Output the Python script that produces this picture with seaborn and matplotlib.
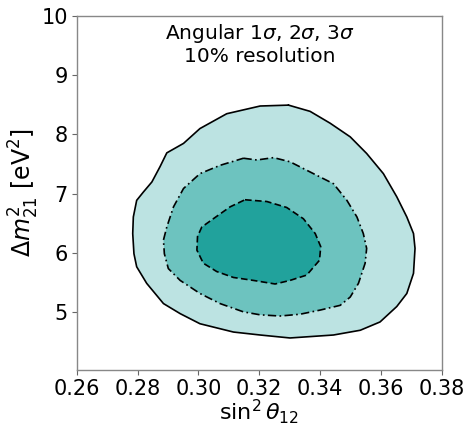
import matplotlib
matplotlib.use("Agg")
import matplotlib.pyplot as plt
import seaborn as sns
import numpy as np

# 3 sigma contour (outer)
outer_x = [0.3296, 0.3203, 0.3093, 0.3005, 0.2951, 0.2896, 0.2874, 0.2847, 0.2819, 0.2797,
           0.2786, 0.2784, 0.2788, 0.2797, 0.2830, 0.2885, 0.2940, 0.3005, 0.3115, 0.3203,
           0.3301, 0.3444, 0.3532, 0.3597, 0.3652, 0.3685, 0.3707, 0.3712, 0.3707, 0.3685,
           0.3652, 0.3608, 0.3553, 0.3499, 0.3433, 0.3367]
outer_y = [8.495, 8.48, 8.35, 8.10, 7.85, 7.69, 7.46, 7.20, 7.03, 6.89,
           6.61, 6.33, 5.99, 5.77, 5.49, 5.15, 4.98, 4.81, 4.67, 4.62,
           4.57, 4.62, 4.70, 4.84, 5.10, 5.32, 5.66, 6.08, 6.33, 6.61,
           6.95, 7.34, 7.68, 7.96, 8.19, 8.39]

# 2 sigma contour (middle)
mid_x = [0.3148, 0.3192, 0.3247, 0.3301, 0.3378, 0.3444, 0.3488, 0.3521, 0.3542, 0.3553,
         0.3548, 0.3526, 0.3499, 0.3466, 0.3400, 0.3334, 0.3268, 0.3203, 0.3148, 0.3071,
         0.3005, 0.2940, 0.2901, 0.2888, 0.2885, 0.2896, 0.2918, 0.2951, 0.3005, 0.3071]
mid_y = [7.60, 7.57, 7.61, 7.54, 7.34, 7.17, 6.89, 6.61, 6.33, 6.08,
         5.83, 5.49, 5.26, 5.12, 5.04, 4.97, 4.94, 4.96, 5.01, 5.15,
         5.32, 5.54, 5.74, 5.99, 6.22, 6.44, 6.78, 7.09, 7.34, 7.48]

# 1 sigma contour (inner)
inner_x = [0.3153, 0.3225, 0.3290, 0.3345, 0.3384, 0.3402, 0.3398, 0.3356, 0.3301, 0.3252,
           0.3181, 0.3115, 0.3060, 0.3016, 0.2995, 0.2997, 0.3011, 0.3049, 0.3104]
inner_y = [6.90, 6.87, 6.77, 6.58, 6.33, 6.11, 5.88, 5.63, 5.54, 5.48,
           5.54, 5.59, 5.69, 5.83, 6.05, 6.28, 6.44, 6.58, 6.78]

x_ticks = [0.26, 0.28, 0.30, 0.32, 0.34, 0.36, 0.38]
y_ticks = [5, 6, 7, 8, 9, 10]

sns.set_style("ticks")
plt.rcParams['font.family'] = ['DejaVu Sans']
plt.rcParams['text.color'] = 'black'
plt.rcParams['axes.labelcolor'] = 'black'
plt.rcParams['xtick.color'] = 'black'
plt.rcParams['ytick.color'] = 'black'

fig = plt.figure(figsize=(4.68, 4.28), dpi=100)
ax = fig.add_axes([0.164, 0.1355, 0.78, 0.8275])

levels = [
    (outer_x, outer_y, "#bce3e2", "-", None),
    (mid_x, mid_y, "#6dc3bf", "-.", (0, (5, 2, 1, 2))),
    (inner_x, inner_y, "#21a29c", "--", (0, (4, 2))),
]
for xs, ys, col, ls, dash in levels:
    xc = list(xs) + [xs[0]]
    yc = list(ys) + [ys[0]]
    ax.fill(xc, yc, color=col, lw=0)
    ax.plot(xc, yc, color="black", lw=1.2, ls=dash if dash else ls)

ax.set_xlim(0.26, 0.38)
ax.set_ylim(4.03, 10)
ax.set_xticks(x_ticks)
ax.set_xticklabels([f"{t:.2f}" for t in x_ticks])
ax.set_yticks(y_ticks)
ax.tick_params(labelsize=15, length=3.5, color="#666666", pad=3)
for s in ax.spines.values():
    s.set_color("#888888")
    s.set_linewidth(1.0)

ax.set_xlabel(r"$\sin^2\theta_{12}$", fontsize=16, labelpad=-1)
ax.set_ylabel(r"$\Delta m^2_{21}$ [eV$^2$]", fontsize=17, labelpad=0)

ax.text(0.5, 0.982, r"Angular 1$\sigma$, 2$\sigma$, 3$\sigma$" + "\n10% resolution",
        transform=ax.transAxes, ha="center", va="top", fontsize=14.5, linespacing=1.1)

fig.savefig("out.png", dpi=100)
